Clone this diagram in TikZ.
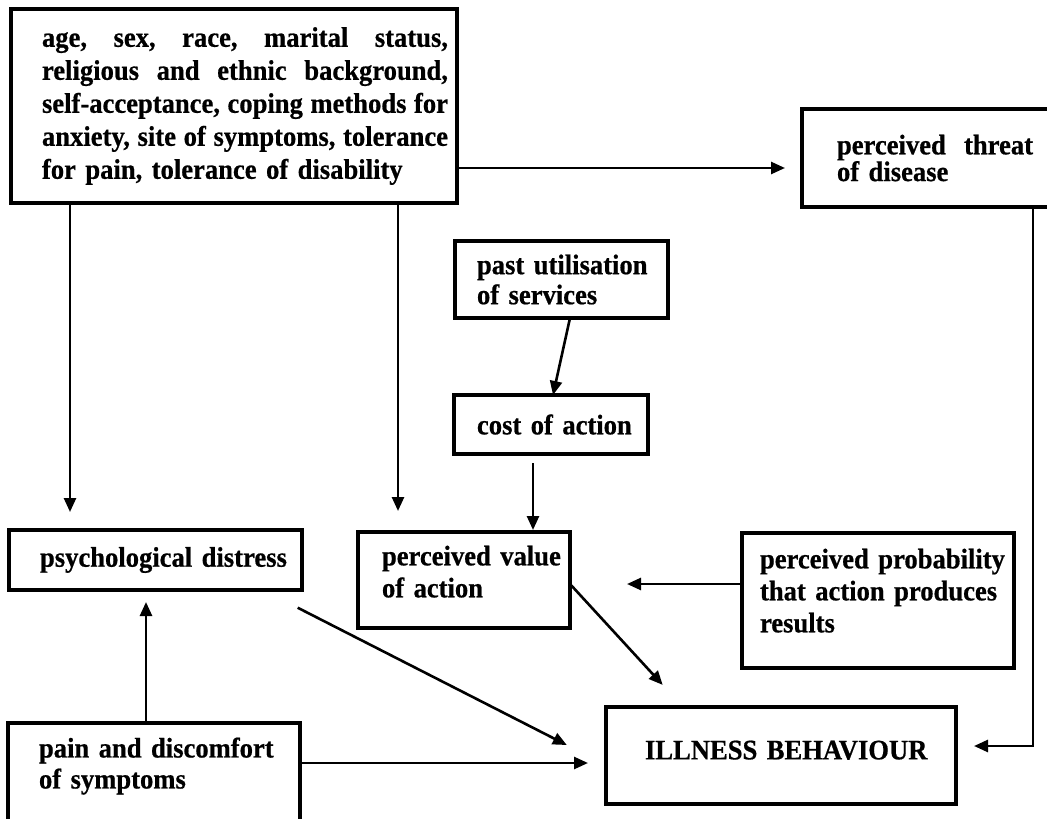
\documentclass[tikz,border=0pt]{standalone}
\usepackage{fontspec}
\setmainfont[FakeBold=0.6,FakeStretch=0.94]{Liberation Serif}
\usetikzlibrary{arrows.meta}
\tikzset{
  box/.style={draw, line width=3.5pt, anchor=north west, outer sep=0pt,
    inner ysep=0pt, align=left, font=\fontsize{28.3}{32}\selectfont\bfseries},
  arr/.style={line width=2.6pt, -{Triangle[length=14pt,width=12pt]}},
}
\begin{document}
\begin{tikzpicture}[x=1pt,y=-1pt]
\useasboundingbox (0,0) rectangle (1047,819);
\fill[white] (0,0) rectangle (1047,819);

\node[box, minimum width=446pt, minimum height=194pt, inner xsep=9pt,
  text width=428pt, font=\fontsize{28.3}{33}\selectfont\bfseries] (age) at (11,9)
  {\hspace*{22pt}\hbox to 406pt{age,\hfill sex,\hfill race,\hfill marital\hfill status,}\\
   \hspace*{22pt}\hbox to 406pt{religious\hfill and\hfill ethnic\hfill background,}\\
   \hspace*{22pt}\hbox to 406pt{self-acceptance,\hfill coping\hfill methods\hfill for}\\
   \hspace*{22pt}\hbox to 406pt{anxiety,\hfill site\hfill of\hfill symptoms,\hfill tolerance}\\
   \hspace*{22pt}\mbox{for pain, tolerance of disability}};

\node[box, minimum width=266pt, minimum height=98pt, inner xsep=35pt,
  text width=196pt, font=\fontsize{28.3}{26.7}\selectfont\bfseries] (threat) at (802,109)
  {\hbox to 196pt{perceived\hfill threat}\\ \mbox{of disease}};

\node[box, minimum width=213pt, minimum height=77pt, inner xsep=22pt,
  text width=169pt, font=\fontsize{28.3}{30}\selectfont\bfseries] (past) at (455,241)
  {\mbox{past utilisation}\\ \mbox{of services}};

\node[box, minimum width=194pt, minimum height=59pt, inner xsep=23pt,
  text width=148pt] (cost) at (454,395)
  {\mbox{cost of action}};

\node[box, minimum width=293pt, minimum height=60pt, inner xsep=31pt,
  text width=231pt] (psych) at (9,530)
  {\mbox{psychological distress}};

\node[box, minimum width=212pt, minimum height=96pt, inner xsep=24pt,
  text width=164pt] (value) at (358,532)
  {\mbox{perceived value}\\ \mbox{of action}\rule[-17pt]{0pt}{0pt}};

\node[box, minimum width=272pt, minimum height=135pt, inner xsep=18pt,
  text width=236pt] (prob) at (742,533)
  {\mbox{perceived probability}\\ \mbox{that action produces}\\ \mbox{results}\rule[-20pt]{0pt}{0pt}};

\node[box, minimum width=292pt, minimum height=98pt, inner xsep=31pt,
  text width=230pt, font=\fontsize{28.3}{31}\selectfont\bfseries] (pain) at (8,723)
  {\mbox{pain and discomfort}\\ \mbox{of symptoms}\rule[-18pt]{0pt}{0pt}};

\node[box, minimum width=350pt, minimum height=97pt, inner xsep=39pt,
  text width=272pt] (illness) at (606,707)
  {\mbox{ILLNESS BEHAVIOUR}\rule[-11pt]{0pt}{0pt}};

\draw[arr, shorten >=17pt] (age.east |- 0,168) -- (threat.west |- 0,168);
\draw[arr, shorten >=18pt] (age.south -| 70,0) -- (psych.north -| 70,0);
\draw[arr, shorten >=21pt] (age.south -| 398,0) -- (value.north -| 398,0);
\draw[arr] (past.south -| 570,0) -- (cost.north -| 553,0);
\draw[arr, shorten <=9pt, shorten >=2pt] (cost.south -| 533,0) -- (value.north -| 533,0);
\draw[arr, shorten >=57pt] (prob.west |- 0,584) -- (value.east |- 0,584);
\draw[arr, shorten >=30pt] (value.east |- 0,584) -- (illness.north -| 683,0);
\draw[arr, shorten <=39pt, shorten >=44pt] (psych.south -| 263,0) -- (illness.west |- 0,765);
\draw[arr, shorten >=12pt] (pain.north -| 146,0) -- (psych.south -| 146,0);
\draw[arr, shorten >=18pt] (pain.east |- 0,763) -- (illness.west |- 0,763);
\draw[arr, shorten >=18pt] (threat.south -| 1033,0) |- (illness.east |- 0,746);
\end{tikzpicture}
\end{document}
